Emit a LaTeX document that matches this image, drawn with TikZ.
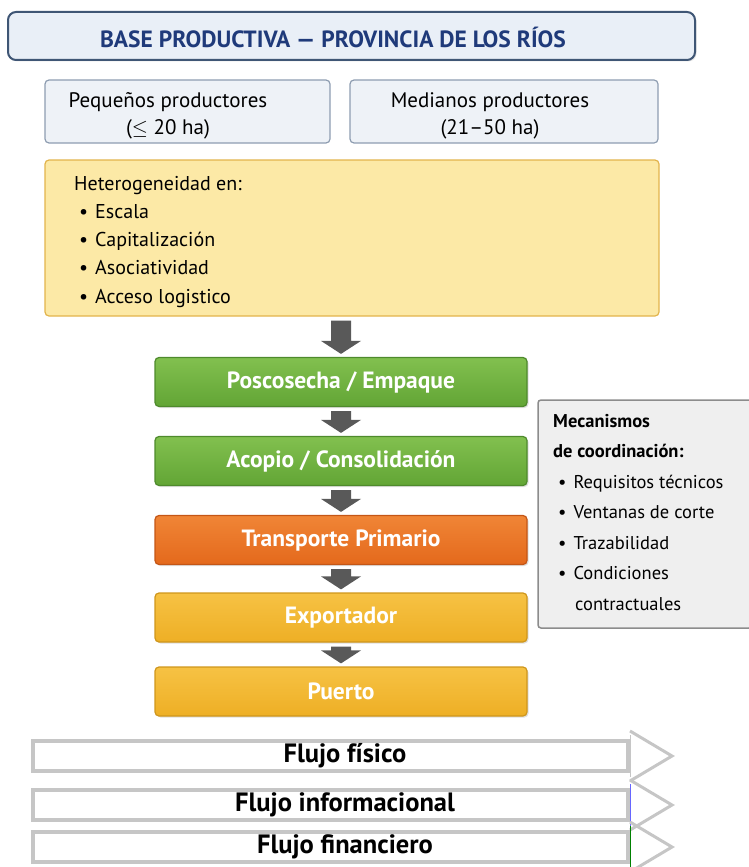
\documentclass[tikz,border=0pt]{standalone}
\usepackage{fontspec}
\setmainfont{PT Sans}
\usetikzlibrary{shadows, calc}
\definecolor{titleFill}{HTML}{E9EFF7}
\definecolor{titleLine}{HTML}{3F5675}
\definecolor{titleText}{HTML}{1F3A7A}
\definecolor{prodFill}{HTML}{EEF2F7}
\definecolor{prodLine}{HTML}{8E9DB1}
\definecolor{heteroFill}{HTML}{FCE9A6}
\definecolor{heteroLine}{HTML}{E2B44C}
\definecolor{greenTop}{HTML}{82C04F}
\definecolor{greenBot}{HTML}{62A535}
\definecolor{greenLine}{HTML}{4E8A2C}
\definecolor{orangeTop}{HTML}{F08536}
\definecolor{orangeBot}{HTML}{E4691C}
\definecolor{orangeLine}{HTML}{C45616}
\definecolor{goldTop}{HTML}{F6C244}
\definecolor{goldBot}{HTML}{EEAF25}
\definecolor{goldLine}{HTML}{CF961C}
\definecolor{arrowGray}{HTML}{595959}
\definecolor{mechFill}{HTML}{EFEFEF}
\definecolor{mechLine}{HTML}{8C8C8C}
\definecolor{flowGray}{HTML}{C6C6C6}
\tikzset{plainbox/.style={draw, rounded corners=4pt, line width=1.2pt}}
\tikzset{prodbox/.style={plainbox, draw=prodLine, fill=prodFill, minimum height=63pt}}
\tikzset{stage/.style={plainbox, minimum width=372pt, minimum height=49pt, text=white, font=\fontsize{23.5}{26}\selectfont\bfseries, drop shadow={opacity=0.25, shadow xshift=1.5pt, shadow yshift=-1.5pt}}}
\tikzset{greenstage/.style={stage, draw=greenLine, top color=greenTop, bottom color=greenBot}}
\tikzset{orangestage/.style={stage, draw=orangeLine, top color=orangeTop, bottom color=orangeBot}}
\tikzset{goldstage/.style={stage, draw=goldLine, top color=goldTop, bottom color=goldBot}}
\tikzset{bodytext/.style={inner sep=0pt, font=\fontsize{21}{27}\selectfont}}
\tikzset{flowbody/.style={draw=flowGray, fill=white, line width=4pt, minimum width=595pt, minimum height=30pt}}
\tikzset{flowtext/.style={inner sep=0pt, font=\fontsize{26.5}{28}\selectfont\bfseries}}
\newcommand{\itm}{\hspace*{5pt}\textbullet\hspace{7pt}}

\begin{document}
\begin{tikzpicture}[x=1pt, y=-1pt]
    \useasboundingbox (0,0) rectangle (748,867);
    % title and producers
    \node[plainbox, rounded corners=8pt, line width=2pt, draw=titleLine, fill=titleFill, minimum width=687pt, minimum height=48pt,
          drop shadow={opacity=0.2, shadow xshift=1.5pt, shadow yshift=-1.5pt}] (title) at (351.5,36) {};
    \node[inner sep=0pt, text=titleText, font=\fontsize{23.5}{26}\selectfont\bfseries] (titleText) at (333,37) {BASE PRODUCTIVA --- PROVINCIA DE LOS RÍOS};
    \node[prodbox, minimum width=285pt] (small) at (187.5,111.5) {};
    \node[bodytext, align=center] (smallText) at (168,116) {Pequeños productores\\(\(\leq\) 20 ha)};
    \node[prodbox, minimum width=308pt] (medium) at (504,111.5) {};
    \node[bodytext, align=center] (mediumText) at (490,116) {Medianos productores\\(21--50 ha)};
    % heterogeneity
    \node[plainbox, draw=heteroLine, fill=heteroFill, minimum width=614pt, minimum height=156pt] (hetero) at (352,238) {};
    \node[bodytext, font=\fontsize{20}{28.2}\selectfont, anchor=north west, align=left] (heteroText) at (74,176) {Heterogeneidad en:\\ \itm Escala\\ \itm Capitalización\\ \itm Asociatividad\\ \itm Acceso logistico};
    % chain
    \node[greenstage] (post) at (341,382) {Poscosecha / Empaque};
    \node[greenstage] (acopio) at (341,461) {Acopio / Consolidación};
    \node[orangestage] (transp) at (341,540) {Transporte Primario};
    \node[goldstage] (export) at (341,617.5) {Exportador};
    \node[goldstage] (port) at (341,691.5) {Puerto};
    \foreach \a/\b in {hetero/post, post/acopio, acopio/transp, transp/export, export/port} {
        \fill[arrowGray] ($(\b.north |- \a.south)+(-10,4)$) -- ($(\b.north)+(-10,-16)$) -- ($(\b.north)+(-20,-16)$) -- ($(\b.north)+(0,-3)$)
            -- ($(\b.north)+(20,-16)$) -- ($(\b.north)+(10,-16)$) -- ($(\b.north |- \a.south)+(10,4)$) -- cycle;
    }
    % coordination
    \node[draw=mechLine, fill=mechFill, line width=1.5pt, rounded corners=3pt, minimum width=214pt, minimum height=228pt] (mech) at (645,514) {};
    \node[inner sep=0pt, anchor=north west, align=left, font=\fontsize{18.5}{30.5}\selectfont] (mechText) at (553,414)
        {\textbf{Mecanismos}\\ \textbf{de coordinación:}\\ \itm Requisitos técnicos\\ \itm Ventanas de corte\\ \itm Trazabilidad\\ \itm Condiciones\\ \hspace*{22pt}contractuales};
    % flows
    \foreach \i/\y/\t/\c in {1/756/Flujo físico/flowGray, 2/805/Flujo informacional/blue!60, 3/847/Flujo financiero/green!50!black} {
        \node[flowbody] (flow\i) at (330.5,\y) {};
        \node[flowtext] (flowText\i) at (345,\y) {\t};
        \draw[flowGray, line width=3pt, line join=miter] ($(flow\i.north east)+(0,-8)$) -- ($(flow\i.east)+(42,0)$) -- ($(flow\i.south east)+(0,8)$);
        \draw[\c, line width=1pt] ($(flow\i.north east)+(0,-4)$) -- ($(flow\i.south east)+(0,4)$);
    }
\end{tikzpicture}
\end{document}
